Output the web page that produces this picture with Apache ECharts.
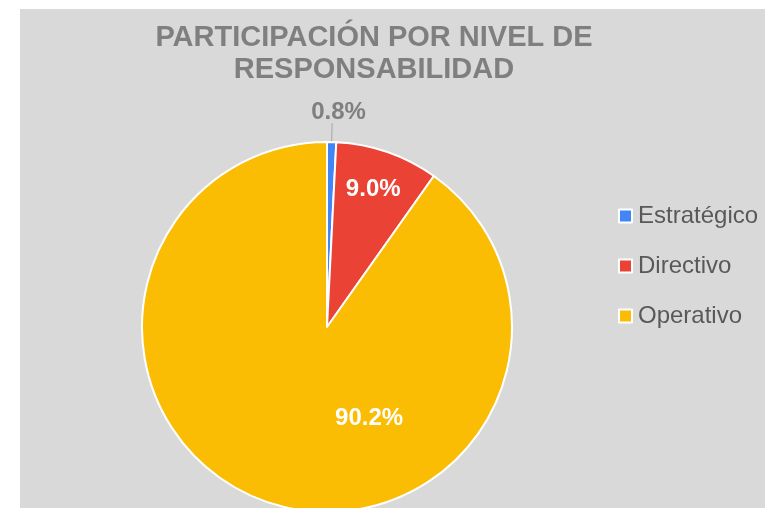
<!DOCTYPE html>
<html>
<head>
<meta charset="utf-8">
<script src="https://cdn.jsdelivr.net/npm/echarts@6/dist/echarts.min.js"></script>
<style>
  html, body { margin: 0; padding: 0; background: #fff; }
  #bg { position: absolute; left: 20px; top: 9px; width: 745px; height: 499px; background: #d9d9d9; }
  #main { position: absolute; left: 0; top: 0; width: 765px; height: 508px; }
</style>
</head>
<body>
<div id="bg"></div>
<div id="main"></div>
<script>
  // datos del gráfico
  const niveles = ['Estratégico', 'Directivo', 'Operativo'];
  const porcentajes = [0.8, 9.0, 90.2];
  const colores = ['#4285f4', '#ea4335', '#fbbc04'];

  // desplazamiento de etiquetas para imitar la posición original
  const labelShift = [[-26, -11], [15, -47], [71, 0]];

  let myChart = echarts.init(document.getElementById('main'));
  let option = {
    backgroundColor: 'transparent',
    title: {
      text: 'PARTICIPACIÓN POR NIVEL DE\nRESPONSABILIDAD',
      left: 369,
      top: 17,
      textAlign: 'center',
      textStyle: {
        fontFamily: 'Liberation Sans, Arial, sans-serif',
        fontSize: 29,
        fontWeight: 'bold',
        color: '#7f7f7f',
        lineHeight: 32
      }
    },
    legend: {
      orient: 'vertical',
      left: 613,
      top: 199,
      itemWidth: 13,
      itemHeight: 13,
      itemGap: 26,
      icon: 'rect',
      itemStyle: { borderColor: '#fff', borderWidth: 2 },
      textStyle: {
        fontFamily: 'Liberation Sans, Arial, sans-serif',
        fontSize: 24,
        color: '#595959',
        padding: [0, 0, 0, 1]
      },
      data: niveles
    },
    series: [
      {
        name: 'Participación',
        type: 'pie',
        center: [327, 327],
        radius: 185,
        startAngle: 90,
        clockwise: true,
        avoidLabelOverlap: false,
        itemStyle: { borderColor: '#fff', borderWidth: 2 },
        label: {
          show: true,
          position: 'inside',
          formatter: p => p.value.toFixed(1) + '%',
          fontFamily: 'Liberation Sans, Arial, sans-serif',
          fontSize: 24,
          fontWeight: 'bold',
          color: '#fff'
        },
        labelLayout: function (params) {
          const s = labelShift[params.dataIndex];
          return { dx: s[0], dy: s[1] };
        },
        data: niveles.map((n, i) => {
          const item = { name: n, value: porcentajes[i], itemStyle: { color: colores[i] } };
          if (i === 0) {
            item.label = { position: 'outside', color: '#7f7f7f' };
            item.labelLine = { show: true, length: 19, length2: 0, lineStyle: { color: '#a6a6a6', width: 1 } };
          }
          return item;
        })
      }
    ]
  };
  myChart.setOption(option);
</script>
</body>
</html>
